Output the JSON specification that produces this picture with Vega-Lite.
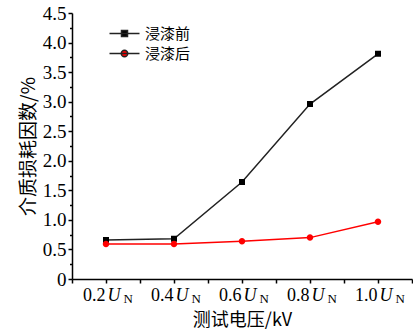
{
  "$schema": "https://vega.github.io/schema/vega-lite/v6.json",
  "width": 340,
  "height": 266,
  "autosize": {"type": "none"},
  "padding": {"left": 72, "top": 13, "right": 1, "bottom": 52},
  "background": "white",
  "config": {
    "view": {"stroke": null},
    "axis": {"grid": false, "domainColor": "black", "tickColor": "black", "labelColor": "black", "titleColor": "black", "domainWidth": 1.5, "tickWidth": 1.5}
  },
  "data": {
    "values": [
      {"v": 0.2, "s": "浸漆前", "y": 0.66},
      {"v": 0.4, "s": "浸漆前", "y": 0.68},
      {"v": 0.6, "s": "浸漆前", "y": 1.64},
      {"v": 0.8, "s": "浸漆前", "y": 2.96},
      {"v": 1.0, "s": "浸漆前", "y": 3.81},
      {"v": 0.2, "s": "浸漆后", "y": 0.59},
      {"v": 0.4, "s": "浸漆后", "y": 0.59},
      {"v": 0.6, "s": "浸漆后", "y": 0.64},
      {"v": 0.8, "s": "浸漆后", "y": 0.70},
      {"v": 1.0, "s": "浸漆后", "y": 0.97}
    ]
  },
  "resolve": {"axis": {"x": "independent", "y": "independent"}},
  "layer": [
    {
      "transform": [{"filter": "datum.s === '浸漆前'"}],
      "mark": {"type": "line", "color": "#222222", "strokeWidth": 1.5},
      "encoding": {
        "x": {
          "field": "v", "type": "quantitative",
          "scale": {"domain": [0.1, 1.1], "nice": false, "zero": false},
          "axis": {
            "orient": "bottom",
            "values": [0.1, 0.2, 0.3, 0.4, 0.5, 0.6, 0.7, 0.8, 0.9, 1.0, 1.1],
            "labelExpr": "indexof(['0.2','0.4','0.6','0.8','1.0'], format(datum.value,'.1f')) >= 0 ? format(datum.value,'.1f') : ''",
            "labelFont": "Liberation Serif", "labelFontSize": 18, "labelAlign": "right", "labelOffset": -1,
            "labelPadding": 3, "tickSize": 4, "labelOverlap": false, "labelFlush": false,
            "title": "测试电压/kV", "titleFont": "Noto Sans CJK SC", "titleFontSize": 18, "titleFontWeight": "normal", "titlePadding": 7
          }
        },
        "y": {
          "field": "y", "type": "quantitative",
          "scale": {"domain": [0, 4.5], "nice": false, "zero": true},
          "axis": {
            "orient": "left",
            "values": [0, 0.5, 1, 1.5, 2, 2.5, 3, 3.5, 4, 4.5],
            "labelExpr": "datum.value == 0 ? '0' : format(datum.value, '.1f')",
            "labelFont": "Liberation Serif", "labelFontSize": 19, "labelPadding": 2, "tickSize": 4, "labelOverlap": false, "labelFlush": false,
            "title": "介质损耗因数/%", "titleFont": "Noto Sans CJK SC", "titleFontSize": 19, "titleFontWeight": "normal", "titlePadding": 4
          }
        }
      }
    },
    {
      "transform": [{"filter": "datum.s === '浸漆后'"}],
      "mark": {"type": "line", "color": "#ff0000", "strokeWidth": 1.5},
      "encoding": {
        "x": {
          "field": "v", "type": "quantitative",
          "axis": {
            "orient": "bottom",
            "values": [0.2, 0.4, 0.6, 0.8, 1.0],
            "labelExpr": "'U'",
            "labelFont": "Liberation Serif", "labelFontSize": 18, "labelFontStyle": "italic", "labelAlign": "left", "labelOffset": 1,
            "labelPadding": 3, "tickSize": 4, "tickOpacity": 0, "domain": false, "labelOverlap": false, "labelFlush": false,
            "title": null
          }
        },
        "y": {
          "field": "y", "type": "quantitative",
          "axis": {
            "orient": "left",
            "values": [0.25, 0.75, 1.25, 1.75, 2.25, 2.75, 3.25, 3.75, 4.25],
            "labels": false, "domain": false, "tickSize": 2.5, "title": null
          }
        }
      }
    },
    {
      "mark": {"type": "point", "filled": true, "opacity": 1, "size": 100, "strokeWidth": 0},
      "encoding": {
        "x": {
          "field": "v", "type": "quantitative",
          "axis": {
            "orient": "bottom",
            "values": [0.2, 0.4, 0.6, 0.8, 1.0],
            "labelExpr": "'N'",
            "labelFont": "Liberation Serif", "labelFontSize": 13, "labelAlign": "left", "labelOffset": 17,
            "labelPadding": 9, "tickSize": 4, "tickOpacity": 0, "domain": false, "labelOverlap": false, "labelFlush": false,
            "title": null
          }
        },
        "y": {"field": "y", "type": "quantitative", "axis": null},
        "color": {
          "field": "s", "type": "nominal",
          "scale": {"domain": ["浸漆前", "浸漆后"], "range": ["black", "red"]},
          "legend": {
            "title": null, "orient": "none", "legendX": 45, "legendY": 13, "padding": 0,
            "labelFont": "Noto Sans CJK SC", "labelFontSize": 15, "labelColor": "black",
            "symbolSize": 100, "labelOffset": 13, "rowPadding": 4,
            "symbolStrokeWidth": 1.5, "symbolStrokeColor": "#222222",
            "encode": {
              "symbols": {
                "update": {
                  "stroke": {"signal": "datum.value === '浸漆前' ? '#222222' : '#ff0000'"},
                  "strokeWidth": {"value": 1.5}
                }
              }
            }
          }
        },
        "shape": {
          "field": "s", "type": "nominal",
          "scale": {"domain": ["浸漆前", "浸漆后"], "range": ["M-3,0H3M-0.6,-0.6H0.6V0.6H-0.6Z", "M-3,0H3M0.65,0A0.65,0.65 0 1,1 -0.65,0A0.65,0.65 0 1,1 0.65,0Z"]},
          "legend": null
        }
      }
    }
  ]
}
